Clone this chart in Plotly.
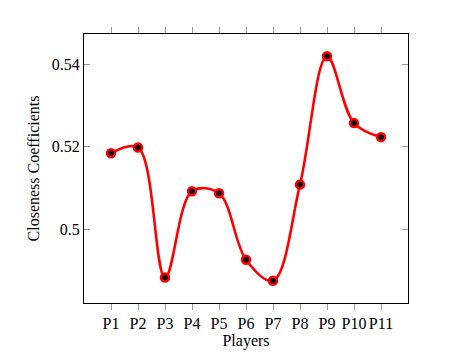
import plotly.graph_objects as go

# Closeness coefficient per player
players = ["P1", "P2", "P3", "P4", "P5", "P6", "P7", "P8", "P9", "P10", "P11"]
positions = [1, 2, 3, 4, 5, 6, 7, 8, 9, 10, 11]
closeness = [0.5184, 0.5198, 0.4883, 0.5092, 0.5087, 0.4926,
             0.4875, 0.5108, 0.5419, 0.5257, 0.5223]

y_ticks = [0.5, 0.52, 0.54]
y_tick_labels = ["0.5", "0.52", "0.54"]

fig = go.Figure()

fig.add_trace(go.Scatter(
    x=positions,
    y=closeness,
    mode='lines+markers',
    line={'color': '#ff0000', 'width': 2.6, 'shape': 'spline', 'smoothing': 1.0},
    marker={'color': 'black', 'size': 8, 'line': {'color': '#ff0000', 'width': 2.5}},
    showlegend=False
))

serif = 'Liberation Serif'
tick_font = dict(family=serif, size=16, color='black')
title_font = dict(family=serif, size=16, color='black')

# X-axis: ticks outside, mirrored on top
fig.update_xaxes(
    range=[0, 12],
    tickvals=positions,
    ticktext=players,
    ticks='outside',
    ticklen=6,
    tickcolor='#999999',
    tickwidth=1,
    showline=True,
    linecolor='black',
    linewidth=1,
    mirror='ticks',
    showgrid=False,
    zeroline=False,
    tickfont=tick_font,
    title=dict(text='Players', font=title_font, standoff=2)
)

# Y-axis: ticks inside, mirrored on the right
fig.update_yaxes(
    range=[0.4821, 0.5473],
    tickvals=y_ticks,
    ticktext=y_tick_labels,
    ticks='inside',
    ticklen=6,
    tickcolor='#999999',
    tickwidth=1,
    showline=True,
    linecolor='black',
    linewidth=1,
    mirror='ticks',
    showgrid=False,
    zeroline=False,
    tickfont=tick_font,
    title=dict(text='Closeness Coefficients', font=title_font, standoff=8)
)

fig.update_layout(
    width=460,
    height=361,
    font=dict(family=serif, size=16, color='black'),
    margin=dict(l=76, r=60, t=26, b=66),
    plot_bgcolor='white',
    paper_bgcolor='white'
)

fig.write_html("out.html")
